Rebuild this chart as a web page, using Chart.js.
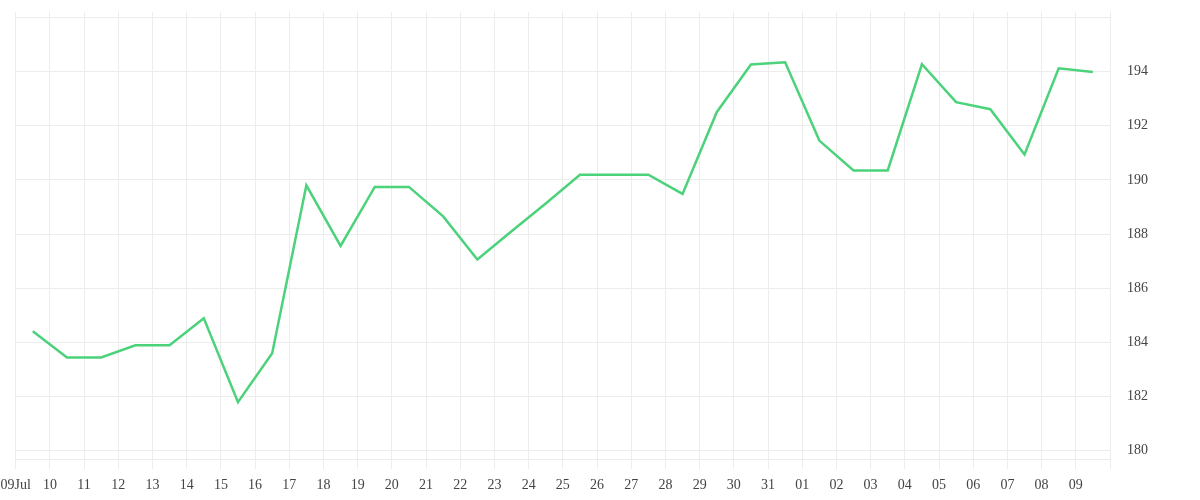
<!DOCTYPE html>
<html>
<head>
<meta charset="utf-8">
<script src="https://cdn.jsdelivr.net/npm/chart.js@4"></script>
<style>
  html, body { margin: 0; padding: 0; background: #fff; }
  #wrap { width: 1200px; height: 500px; }
</style>
</head>
<body>
<div id="wrap"><canvas id="priceChart"></canvas></div>
<script>
// day labels, one per day tick
var dayLabels = ["09Jul","10","11","12","13","14","15","16","17","18","19","20","21","22","23","24",
  "25","26","27","28","29","30","31","01","02","03","04","05","06","07","08","09"];
// closing values, one per day (plotted at mid-day)
var closeValues = [184.41, 183.44, 183.44, 183.89, 183.89, 184.89, 181.79, 183.6,
  189.8, 187.56, 189.74, 189.74, 188.65, 187.06, 188.1, 189.13,
  190.19, 190.19, 190.19, 189.48, 192.5, 194.26, 194.34, 191.45,
  190.35, 190.35, 194.27, 192.87, 192.61, 190.94, 194.12, 193.98];
var yTicksShown = [180, 182, 184, 186, 188, 190, 192, 194];

var gridColor = '#ececec';
var textColor = '#444';
var fontFamily = '"Liberation Serif", "DejaVu Serif", serif';

var points = closeValues.map(function(v, i) {
  return { x: i + 0.5, y: v };
});

var ctx = document.getElementById("priceChart").getContext('2d');
var chart = new Chart(ctx, {
  type: 'line',
  data: {
    datasets: [{
      data: points,
      borderColor: '#4cd27b',
      borderWidth: 2.5,
      pointRadius: 0,
      tension: 0,
      fill: false
    }]
  },
  options: {
    responsive: true,
    maintainAspectRatio: false,
    animation: false,
    layout: { padding: { top: 12, left: 15.7, right: 0, bottom: 0 } },
    plugins: { legend: { display: false }, tooltip: { enabled: false } },
    scales: {
      x: {
        type: 'linear',
        min: 0,
        max: 32,
        grid: { color: gridColor, tickLength: 10, drawTicks: true },
        border: { color: gridColor },
        ticks: {
          stepSize: 1,
          autoSkip: false,
          maxRotation: 0,
          padding: 8,
          color: textColor,
          font: { family: fontFamily, size: 14 },
          callback: function(v) { return dayLabels[v] !== undefined ? dayLabels[v] : ''; }
        },
        afterFit: function(s) {
          s.height = 41;
          s.paddingLeft = 0;
          s.paddingRight = 0;
        }
      },
      y: {
        position: 'right',
        min: 179.69,
        max: 196.2,
        grid: { color: gridColor, drawTicks: false },
        border: { color: gridColor },
        ticks: {
          stepSize: 2,
          includeBounds: false,
          padding: 17,
          color: textColor,
          font: { family: fontFamily, size: 14 },
          callback: function(v) { return yTicksShown.indexOf(v) >= 0 ? v : ''; }
        },
        afterFit: function(s) {
          s.width = 90;
          s.paddingTop = 0;
          s.paddingBottom = 0;
        }
      }
    }
  }
});
</script>
</body>
</html>
